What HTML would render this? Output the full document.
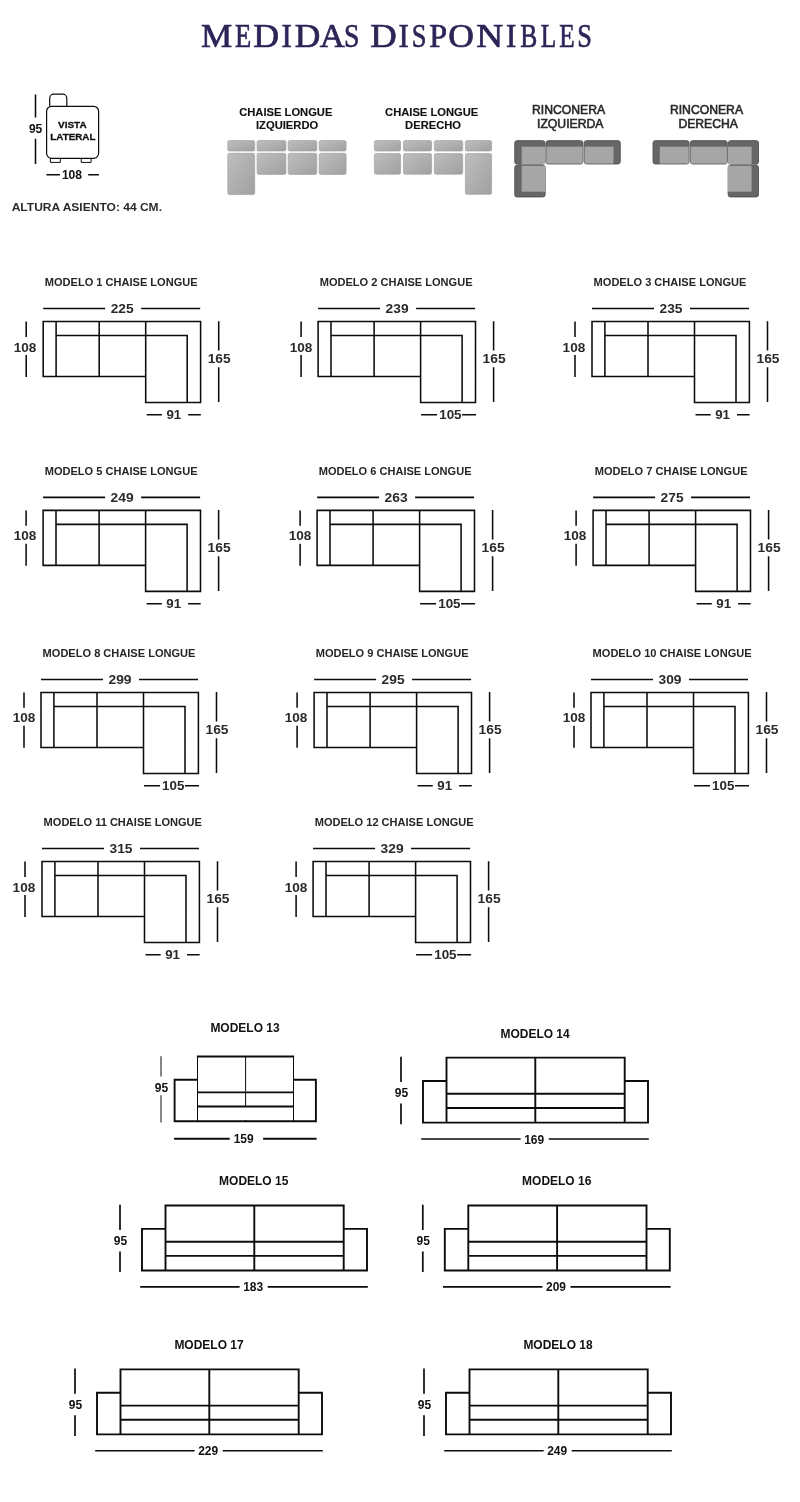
<!DOCTYPE html>
<html><head><meta charset="utf-8"><title>Medidas disponibles</title>
<style>
html,body{margin:0;padding:0;background:#fff;}
body{width:800px;height:1502px;overflow:hidden;font-family:"Liberation Sans",sans-serif;}
svg{display:block;}
text{font-family:"Liberation Sans",sans-serif;font-weight:bold;}
.title text{font-family:"Liberation Serif",serif;font-weight:normal;font-size:34.2px;fill:#2d2558;stroke:#2d2558;stroke-width:0.7px;}
.ln{fill:none;stroke:#0c0c0c;stroke-width:1.55;}
.l2{fill:none;stroke:#0c0c0c;stroke-width:1.9;}
.l1{fill:none;stroke:#0c0c0c;stroke-width:1;}
.ct{font-size:11.05px;fill:#262626;}
.dn{font-size:12.4px;fill:#2a2a2a;}
.st{font-size:12.9px;fill:#111;}
.sn{font-size:12.5px;fill:#111;}
.ic{font-size:11.2px;fill:#111;stroke:#111;stroke-width:0.12px;}
.rc{font-size:12.2px;fill:#2a2a2a;font-weight:normal;stroke:#2a2a2a;stroke-width:0.6px;}
</style></head><body>
<svg width="800" height="1502" viewBox="0 0 800 1502">
<defs>
<linearGradient id="gg" x1="0" y1="0" x2="1" y2="1"><stop offset="0" stop-color="#bebebe"/><stop offset="1" stop-color="#a0a0a0"/></linearGradient>
</defs>
<rect width="800" height="1502" fill="#fff"/>

<g style="filter:contrast(1.0001)" class="title">
<text transform="translate(201.04,46.6) scale(1.0256,1)">M</text>
<text transform="translate(235.03,46.6) scale(0.7774,1)">E</text>
<text transform="translate(253.27,46.6) scale(1.0473,1)">D</text>
<text transform="translate(281.58,46.6) scale(0.9049,1)">I</text>
<text transform="translate(294.78,46.6) scale(1.0361,1)">D</text>
<text transform="translate(319.86,46.6) scale(1.0119,1)">A</text>
<text transform="translate(343.94,46.6) scale(0.8144,1)">S</text>
<text transform="translate(370.24,46.6) scale(1.0741,1)">D</text>
<text transform="translate(398.58,46.6) scale(0.9049,1)">I</text>
<text transform="translate(411.63,46.6) scale(0.7733,1)">S</text>
<text transform="translate(429.37,46.6) scale(0.9390,1)">P</text>
<text transform="translate(448.24,46.6) scale(1.0392,1)">O</text>
<text transform="translate(476.13,46.6) scale(1.0904,1)">N</text>
<text transform="translate(506.08,46.6) scale(0.9049,1)">I</text>
<text transform="translate(520.16,46.6) scale(0.7467,1)">B</text>
<text transform="translate(540.82,46.6) scale(0.7366,1)">L</text>
<text transform="translate(559.32,46.6) scale(0.7362,1)">E</text>
<text transform="translate(577.29,46.6) scale(0.7699,1)">S</text>
</g>
<g style="filter:grayscale(1)">
<g>
<path class="l1" style="stroke-width:1.2" d="M49.7,106.3V98.2a4,4 0 0 1 4,-4h9.1a4,4 0 0 1 4,4V106.3"/>
<rect class="l1" style="stroke-width:1.2" x="46.6" y="106.3" width="52" height="52" rx="5" ry="5"/>
<path class="l1" d="M50.4,158.3v4.1h9.9v-4.1 M81.2,158.3v4.1h9.9v-4.1" stroke="#444"/>
<path class="ln" d="M35.5,94.4V117.6 M35.5,138.7V163.9"/>
<text x="35.6" y="133" class="sn" text-anchor="middle" textLength="13.4" lengthAdjust="spacingAndGlyphs">95</text>
<path class="ln" d="M46.4,174.8H59.9 M88.2,174.8H98.9"/>
<text x="72" y="179.3" class="sn" text-anchor="middle" textLength="20.2" lengthAdjust="spacingAndGlyphs">108</text>
<text x="72.3" y="127.9" font-size="9.7" fill="#111" stroke="#111" stroke-width="0.3" text-anchor="middle" textLength="28.6" lengthAdjust="spacingAndGlyphs">VISTA</text>
<text x="72.9" y="139.9" font-size="9.7" fill="#111" stroke="#111" stroke-width="0.3" text-anchor="middle" textLength="45.2" lengthAdjust="spacingAndGlyphs">LATERAL</text>
<text x="11.7" y="210.8" font-size="10.7" fill="#2c2c2c" textLength="150.3" lengthAdjust="spacingAndGlyphs">ALTURA ASIENTO: 44 CM.</text>
</g>
<text x="285.8" y="116.1" class="ic" text-anchor="middle">CHAISE LONGUE</text>
<text x="287.1" y="129" class="ic" text-anchor="middle">IZQUIERDO</text>
<rect x="227.80" y="140.60" width="26.90" height="10.40" rx="1.6" fill="url(#gg)" stroke="#a2a2a2" stroke-width="0.7"/>
<rect x="227.80" y="153.30" width="26.90" height="41.30" rx="1.6" fill="url(#gg)" stroke="#a2a2a2" stroke-width="0.7"/>
<rect x="257.10" y="140.60" width="28.80" height="10.40" rx="1.6" fill="url(#gg)" stroke="#a2a2a2" stroke-width="0.7"/>
<rect x="257.10" y="153.30" width="28.80" height="21.10" rx="1.6" fill="url(#gg)" stroke="#a2a2a2" stroke-width="0.7"/>
<rect x="288.20" y="140.60" width="28.60" height="10.40" rx="1.6" fill="url(#gg)" stroke="#a2a2a2" stroke-width="0.7"/>
<rect x="288.20" y="153.30" width="28.60" height="21.10" rx="1.6" fill="url(#gg)" stroke="#a2a2a2" stroke-width="0.7"/>
<rect x="319.20" y="140.60" width="26.90" height="10.40" rx="1.6" fill="url(#gg)" stroke="#a2a2a2" stroke-width="0.7"/>
<rect x="319.20" y="153.30" width="26.90" height="21.10" rx="1.6" fill="url(#gg)" stroke="#a2a2a2" stroke-width="0.7"/>
<text x="431.7" y="116.1" class="ic" text-anchor="middle">CHAISE LONGUE</text>
<text x="433.1" y="129" class="ic" text-anchor="middle">DERECHO</text>
<rect x="374.40" y="140.60" width="26.20" height="10.40" rx="1.6" fill="url(#gg)" stroke="#a2a2a2" stroke-width="0.7"/>
<rect x="374.40" y="153.60" width="26.20" height="20.60" rx="1.6" fill="url(#gg)" stroke="#a2a2a2" stroke-width="0.7"/>
<rect x="403.50" y="140.60" width="28.10" height="10.40" rx="1.6" fill="url(#gg)" stroke="#a2a2a2" stroke-width="0.7"/>
<rect x="403.50" y="153.60" width="28.10" height="20.60" rx="1.6" fill="url(#gg)" stroke="#a2a2a2" stroke-width="0.7"/>
<rect x="434.40" y="140.60" width="28.30" height="10.40" rx="1.6" fill="url(#gg)" stroke="#a2a2a2" stroke-width="0.7"/>
<rect x="434.40" y="153.60" width="28.30" height="20.60" rx="1.6" fill="url(#gg)" stroke="#a2a2a2" stroke-width="0.7"/>
<rect x="465.40" y="140.60" width="26.20" height="10.40" rx="1.6" fill="url(#gg)" stroke="#a2a2a2" stroke-width="0.7"/>
<rect x="465.40" y="153.60" width="26.20" height="40.70" rx="1.6" fill="url(#gg)" stroke="#a2a2a2" stroke-width="0.7"/>
<text x="568.6" y="113.8" class="rc" text-anchor="middle">RINCONERA</text>
<text x="570.2" y="127.8" class="rc" text-anchor="middle">IZQUIERDA</text>
<rect x="514.75" y="140.65" width="30.20" height="23.50" rx="2.3" fill="#676569" stroke="#504e52" stroke-width="0.9"/>
<rect x="546.05" y="140.65" width="36.90" height="23.30" rx="2.3" fill="#676569" stroke="#504e52" stroke-width="0.9"/>
<rect x="584.25" y="140.65" width="36.00" height="23.30" rx="2.3" fill="#676569" stroke="#504e52" stroke-width="0.9"/>
<rect x="514.75" y="165.35" width="30.40" height="31.60" rx="2.3" fill="#676569" stroke="#504e52" stroke-width="0.9"/>
<rect x="521.7" y="146.7" width="23.6" height="17.4" fill="#aaa5a9"/>
<rect x="546.4" y="146.7" width="36.3" height="16.9" fill="#aaa5a9"/>
<rect x="584.6" y="146.7" width="28.9" height="16.9" fill="#aaa5a9"/>
<rect x="521.7" y="165.7" width="23.6" height="26.0" fill="#aaa5a9"/>
<text x="706.5" y="113.8" class="rc" text-anchor="middle">RINCONERA</text>
<text x="708.2" y="127.8" class="rc" text-anchor="middle">DERECHA</text>
<rect x="728.35" y="140.65" width="30.20" height="23.50" rx="2.3" fill="#676569" stroke="#504e52" stroke-width="0.9"/>
<rect x="690.35" y="140.65" width="36.90" height="23.30" rx="2.3" fill="#676569" stroke="#504e52" stroke-width="0.9"/>
<rect x="653.05" y="140.65" width="36.00" height="23.30" rx="2.3" fill="#676569" stroke="#504e52" stroke-width="0.9"/>
<rect x="728.15" y="165.35" width="30.40" height="31.60" rx="2.3" fill="#676569" stroke="#504e52" stroke-width="0.9"/>
<rect x="728.0" y="146.7" width="23.6" height="17.4" fill="#aaa5a9"/>
<rect x="690.6" y="146.7" width="36.3" height="16.9" fill="#aaa5a9"/>
<rect x="659.8" y="146.7" width="28.9" height="16.9" fill="#aaa5a9"/>
<rect x="728.0" y="165.7" width="23.6" height="26.0" fill="#aaa5a9"/>
<g transform="translate(43.2,321.5)">
<text x="1.6" y="-35.5" class="ct">MODELO 1 CHAISE LONGUE</text>
<path class="ln" d="M0,0H157.4V81H102.5V55H0Z M12.9,0V55 M12.9,14H144V81 M56,0V55 M102.5,0V55"/>
<path class="ln" d="M0,-13H62 M98,-13H157"/>
<text x="79" y="-8.6" class="dn" text-anchor="middle" textLength="23" lengthAdjust="spacingAndGlyphs">225</text>
<path class="ln" d="M-17,0V15.4 M-17,33.4V55.4"/>
<text x="-18.1" y="30" class="dn" text-anchor="middle" textLength="22.6" lengthAdjust="spacingAndGlyphs">108</text>
<path class="ln" d="M175.5,-0.3V29 M175.5,45.8V80.6"/>
<text x="176" y="41.2" class="dn" text-anchor="middle" textLength="23" lengthAdjust="spacingAndGlyphs">165</text>
<path class="ln" d="M103.5,93.3H118.7 M145,93.3H157.6"/>
<text x="130.6" y="97.3" class="dn" text-anchor="middle" textLength="14.8" lengthAdjust="spacingAndGlyphs">91</text>
</g>
<g transform="translate(318.1,321.5)">
<text x="1.6" y="-35.5" class="ct">MODELO 2 CHAISE LONGUE</text>
<path class="ln" d="M0,0H157.4V81H102.5V55H0Z M12.9,0V55 M12.9,14H144V81 M56,0V55 M102.5,0V55"/>
<path class="ln" d="M0,-13H62 M98,-13H157"/>
<text x="79" y="-8.6" class="dn" text-anchor="middle" textLength="23" lengthAdjust="spacingAndGlyphs">239</text>
<path class="ln" d="M-17,0V15.4 M-17,33.4V55.4"/>
<text x="-17.0" y="30" class="dn" text-anchor="middle" textLength="22.6" lengthAdjust="spacingAndGlyphs">108</text>
<path class="ln" d="M175.5,-0.3V29 M175.5,45.8V80.6"/>
<text x="176" y="41.2" class="dn" text-anchor="middle" textLength="23" lengthAdjust="spacingAndGlyphs">165</text>
<path class="ln" d="M103,93.3H119 M144,93.3H158"/>
<text x="132.3" y="97.3" class="dn" text-anchor="middle" textLength="22.4" lengthAdjust="spacingAndGlyphs">105</text>
</g>
<g transform="translate(592.0,321.5)">
<text x="1.6" y="-35.5" class="ct">MODELO 3 CHAISE LONGUE</text>
<path class="ln" d="M0,0H157.4V81H102.5V55H0Z M12.9,0V55 M12.9,14H144V81 M56,0V55 M102.5,0V55"/>
<path class="ln" d="M0,-13H62 M98,-13H157"/>
<text x="79" y="-8.6" class="dn" text-anchor="middle" textLength="23" lengthAdjust="spacingAndGlyphs">235</text>
<path class="ln" d="M-17,0V15.4 M-17,33.4V55.4"/>
<text x="-18.1" y="30" class="dn" text-anchor="middle" textLength="22.6" lengthAdjust="spacingAndGlyphs">108</text>
<path class="ln" d="M175.5,-0.3V29 M175.5,45.8V80.6"/>
<text x="176" y="41.2" class="dn" text-anchor="middle" textLength="23" lengthAdjust="spacingAndGlyphs">165</text>
<path class="ln" d="M103.5,93.3H118.7 M145,93.3H157.6"/>
<text x="130.6" y="97.3" class="dn" text-anchor="middle" textLength="14.8" lengthAdjust="spacingAndGlyphs">91</text>
</g>
<g transform="translate(43.1,510.4)">
<text x="1.6" y="-35.5" class="ct">MODELO 5 CHAISE LONGUE</text>
<path class="ln" d="M0,0H157.4V81H102.5V55H0Z M12.9,0V55 M12.9,14H144V81 M56,0V55 M102.5,0V55"/>
<path class="ln" d="M0,-13H62 M98,-13H157"/>
<text x="79" y="-8.6" class="dn" text-anchor="middle" textLength="23" lengthAdjust="spacingAndGlyphs">249</text>
<path class="ln" d="M-17,0V15.4 M-17,33.4V55.4"/>
<text x="-18.1" y="30" class="dn" text-anchor="middle" textLength="22.6" lengthAdjust="spacingAndGlyphs">108</text>
<path class="ln" d="M175.5,-0.3V29 M175.5,45.8V80.6"/>
<text x="176" y="41.2" class="dn" text-anchor="middle" textLength="23" lengthAdjust="spacingAndGlyphs">165</text>
<path class="ln" d="M103.5,93.3H118.7 M145,93.3H157.6"/>
<text x="130.6" y="97.3" class="dn" text-anchor="middle" textLength="14.8" lengthAdjust="spacingAndGlyphs">91</text>
</g>
<g transform="translate(317.1,510.4)">
<text x="1.6" y="-35.5" class="ct">MODELO 6 CHAISE LONGUE</text>
<path class="ln" d="M0,0H157.4V81H102.5V55H0Z M12.9,0V55 M12.9,14H144V81 M56,0V55 M102.5,0V55"/>
<path class="ln" d="M0,-13H62 M98,-13H157"/>
<text x="79" y="-8.6" class="dn" text-anchor="middle" textLength="23" lengthAdjust="spacingAndGlyphs">263</text>
<path class="ln" d="M-17,0V15.4 M-17,33.4V55.4"/>
<text x="-17.0" y="30" class="dn" text-anchor="middle" textLength="22.6" lengthAdjust="spacingAndGlyphs">108</text>
<path class="ln" d="M175.5,-0.3V29 M175.5,45.8V80.6"/>
<text x="176" y="41.2" class="dn" text-anchor="middle" textLength="23" lengthAdjust="spacingAndGlyphs">165</text>
<path class="ln" d="M103,93.3H119 M144,93.3H158"/>
<text x="132.3" y="97.3" class="dn" text-anchor="middle" textLength="22.4" lengthAdjust="spacingAndGlyphs">105</text>
</g>
<g transform="translate(593.1,510.4)">
<text x="1.6" y="-35.5" class="ct">MODELO 7 CHAISE LONGUE</text>
<path class="ln" d="M0,0H157.4V81H102.5V55H0Z M12.9,0V55 M12.9,14H144V81 M56,0V55 M102.5,0V55"/>
<path class="ln" d="M0,-13H62 M98,-13H157"/>
<text x="79" y="-8.6" class="dn" text-anchor="middle" textLength="23" lengthAdjust="spacingAndGlyphs">275</text>
<path class="ln" d="M-17,0V15.4 M-17,33.4V55.4"/>
<text x="-18.1" y="30" class="dn" text-anchor="middle" textLength="22.6" lengthAdjust="spacingAndGlyphs">108</text>
<path class="ln" d="M175.5,-0.3V29 M175.5,45.8V80.6"/>
<text x="176" y="41.2" class="dn" text-anchor="middle" textLength="23" lengthAdjust="spacingAndGlyphs">165</text>
<path class="ln" d="M103.5,93.3H118.7 M145,93.3H157.6"/>
<text x="130.6" y="97.3" class="dn" text-anchor="middle" textLength="14.8" lengthAdjust="spacingAndGlyphs">91</text>
</g>
<g transform="translate(41.0,692.4)">
<text x="1.6" y="-35.5" class="ct">MODELO 8 CHAISE LONGUE</text>
<path class="ln" d="M0,0H157.4V81H102.5V55H0Z M12.9,0V55 M12.9,14H144V81 M56,0V55 M102.5,0V55"/>
<path class="ln" d="M0,-13H62 M98,-13H157"/>
<text x="79" y="-8.6" class="dn" text-anchor="middle" textLength="23" lengthAdjust="spacingAndGlyphs">299</text>
<path class="ln" d="M-17,0V15.4 M-17,33.4V55.4"/>
<text x="-17.0" y="30" class="dn" text-anchor="middle" textLength="22.6" lengthAdjust="spacingAndGlyphs">108</text>
<path class="ln" d="M175.5,-0.3V29 M175.5,45.8V80.6"/>
<text x="176" y="41.2" class="dn" text-anchor="middle" textLength="23" lengthAdjust="spacingAndGlyphs">165</text>
<path class="ln" d="M103,93.3H119 M144,93.3H158"/>
<text x="132.3" y="97.3" class="dn" text-anchor="middle" textLength="22.4" lengthAdjust="spacingAndGlyphs">105</text>
</g>
<g transform="translate(314.1,692.4)">
<text x="1.6" y="-35.5" class="ct">MODELO 9 CHAISE LONGUE</text>
<path class="ln" d="M0,0H157.4V81H102.5V55H0Z M12.9,0V55 M12.9,14H144V81 M56,0V55 M102.5,0V55"/>
<path class="ln" d="M0,-13H62 M98,-13H157"/>
<text x="79" y="-8.6" class="dn" text-anchor="middle" textLength="23" lengthAdjust="spacingAndGlyphs">295</text>
<path class="ln" d="M-17,0V15.4 M-17,33.4V55.4"/>
<text x="-18.1" y="30" class="dn" text-anchor="middle" textLength="22.6" lengthAdjust="spacingAndGlyphs">108</text>
<path class="ln" d="M175.5,-0.3V29 M175.5,45.8V80.6"/>
<text x="176" y="41.2" class="dn" text-anchor="middle" textLength="23" lengthAdjust="spacingAndGlyphs">165</text>
<path class="ln" d="M103.5,93.3H118.7 M145,93.3H157.6"/>
<text x="130.6" y="97.3" class="dn" text-anchor="middle" textLength="14.8" lengthAdjust="spacingAndGlyphs">91</text>
</g>
<g transform="translate(591.0,692.4)">
<text x="1.6" y="-35.5" class="ct">MODELO 10 CHAISE LONGUE</text>
<path class="ln" d="M0,0H157.4V81H102.5V55H0Z M12.9,0V55 M12.9,14H144V81 M56,0V55 M102.5,0V55"/>
<path class="ln" d="M0,-13H62 M98,-13H157"/>
<text x="79" y="-8.6" class="dn" text-anchor="middle" textLength="23" lengthAdjust="spacingAndGlyphs">309</text>
<path class="ln" d="M-17,0V15.4 M-17,33.4V55.4"/>
<text x="-17.0" y="30" class="dn" text-anchor="middle" textLength="22.6" lengthAdjust="spacingAndGlyphs">108</text>
<path class="ln" d="M175.5,-0.3V29 M175.5,45.8V80.6"/>
<text x="176" y="41.2" class="dn" text-anchor="middle" textLength="23" lengthAdjust="spacingAndGlyphs">165</text>
<path class="ln" d="M103,93.3H119 M144,93.3H158"/>
<text x="132.3" y="97.3" class="dn" text-anchor="middle" textLength="22.4" lengthAdjust="spacingAndGlyphs">105</text>
</g>
<g transform="translate(42.0,861.5)">
<text x="1.6" y="-35.5" class="ct">MODELO 11 CHAISE LONGUE</text>
<path class="ln" d="M0,0H157.4V81H102.5V55H0Z M12.9,0V55 M12.9,14H144V81 M56,0V55 M102.5,0V55"/>
<path class="ln" d="M0,-13H62 M98,-13H157"/>
<text x="79" y="-8.6" class="dn" text-anchor="middle" textLength="23" lengthAdjust="spacingAndGlyphs">315</text>
<path class="ln" d="M-17,0V15.4 M-17,33.4V55.4"/>
<text x="-18.1" y="30" class="dn" text-anchor="middle" textLength="22.6" lengthAdjust="spacingAndGlyphs">108</text>
<path class="ln" d="M175.5,-0.3V29 M175.5,45.8V80.6"/>
<text x="176" y="41.2" class="dn" text-anchor="middle" textLength="23" lengthAdjust="spacingAndGlyphs">165</text>
<path class="ln" d="M103.5,93.3H118.7 M145,93.3H157.6"/>
<text x="130.6" y="97.3" class="dn" text-anchor="middle" textLength="14.8" lengthAdjust="spacingAndGlyphs">91</text>
</g>
<g transform="translate(313.1,861.5)">
<text x="1.6" y="-35.5" class="ct">MODELO 12 CHAISE LONGUE</text>
<path class="ln" d="M0,0H157.4V81H102.5V55H0Z M12.9,0V55 M12.9,14H144V81 M56,0V55 M102.5,0V55"/>
<path class="ln" d="M0,-13H62 M98,-13H157"/>
<text x="79" y="-8.6" class="dn" text-anchor="middle" textLength="23" lengthAdjust="spacingAndGlyphs">329</text>
<path class="ln" d="M-17,0V15.4 M-17,33.4V55.4"/>
<text x="-17.0" y="30" class="dn" text-anchor="middle" textLength="22.6" lengthAdjust="spacingAndGlyphs">108</text>
<path class="ln" d="M175.5,-0.3V29 M175.5,45.8V80.6"/>
<text x="176" y="41.2" class="dn" text-anchor="middle" textLength="23" lengthAdjust="spacingAndGlyphs">165</text>
<path class="ln" d="M103,93.3H119 M144,93.3H158"/>
<text x="132.3" y="97.3" class="dn" text-anchor="middle" textLength="22.4" lengthAdjust="spacingAndGlyphs">105</text>
</g>
<text x="245" y="1031.5" class="st" text-anchor="middle" textLength="69.2" lengthAdjust="spacingAndGlyphs">MODELO 13</text>
<g>
<path class="l2" d="M197.5,1079.8H174.6V1121.2H315.9V1079.8H293.5"/>
<path class="l2" d="M196.9,1056.5H294.1"/>
<path class="l1" d="M197.5,1056.4V1121.5 M293.5,1056.4V1121.5 M245.6,1056.4V1107 M245.6,1120V1122"/>
<path class="l2" d="M197.5,1092.4H293.5 M197.5,1106.5H293.5"/>
<path class="l1" d="M161,1056.2V1076.5 M161,1095.2V1122.5" stroke="#3a3a3a" stroke-width="1.7"/>
<text x="161.5" y="1092" class="sn" text-anchor="middle" textLength="13.4" lengthAdjust="spacingAndGlyphs">95</text>
<path class="l2" d="M174.1,1138.8H229.7 M263.1,1138.8H316.6"/>
<text x="243.7" y="1143.3" class="sn" text-anchor="middle" textLength="20" lengthAdjust="spacingAndGlyphs">159</text>
</g>
<text x="535.1" y="1038.25" class="st" text-anchor="middle" textLength="69.2" lengthAdjust="spacingAndGlyphs">MODELO 14</text>
<g transform="translate(423.0,1081.0)">
<path class="l2" d="M23.5,-23.4H201.7V0H225V41.6H0V0H23.5Z M23.5,0V41.6 M201.7,0V41.6 M112.3,-23.4V41.6 M23.5,12.8H201.7 M23.5,27H201.7"/>
<path class="l2" style="stroke-width:1.7" d="M-22,-24.2V1 M-22,22.5V43.2"/>
<text x="-21.6" y="16.2" class="sn" text-anchor="middle" textLength="13.4" lengthAdjust="spacingAndGlyphs">95</text>
<path class="l2" style="stroke-width:1.6" d="M-1.8,58H97.6 M125.7,58H225.8"/>
<text x="111.2" y="62.5" class="sn" text-anchor="middle" textLength="20" lengthAdjust="spacingAndGlyphs">169</text>
</g>
<text x="253.7" y="1184.5" class="st" text-anchor="middle" textLength="69.2" lengthAdjust="spacingAndGlyphs">MODELO 15</text>
<g transform="translate(142.0,1228.9)">
<path class="l2" d="M23.5,-23.4H201.7V0H225V41.6H0V0H23.5Z M23.5,0V41.6 M201.7,0V41.6 M112.3,-23.4V41.6 M23.5,12.8H201.7 M23.5,27H201.7"/>
<path class="l2" style="stroke-width:1.7" d="M-22,-24.2V1 M-22,22.5V43.2"/>
<text x="-21.6" y="16.2" class="sn" text-anchor="middle" textLength="13.4" lengthAdjust="spacingAndGlyphs">95</text>
<path class="l2" style="stroke-width:1.6" d="M-1.8,58H97.6 M125.7,58H225.8"/>
<text x="111.2" y="62.5" class="sn" text-anchor="middle" textLength="20" lengthAdjust="spacingAndGlyphs">183</text>
</g>
<text x="556.7" y="1184.5" class="st" text-anchor="middle" textLength="69.2" lengthAdjust="spacingAndGlyphs">MODELO 16</text>
<g transform="translate(444.8,1228.9)">
<path class="l2" d="M23.5,-23.4H201.7V0H225V41.6H0V0H23.5Z M23.5,0V41.6 M201.7,0V41.6 M112.3,-23.4V41.6 M23.5,12.8H201.7 M23.5,27H201.7"/>
<path class="l2" style="stroke-width:1.7" d="M-22,-24.2V1 M-22,22.5V43.2"/>
<text x="-21.6" y="16.2" class="sn" text-anchor="middle" textLength="13.4" lengthAdjust="spacingAndGlyphs">95</text>
<path class="l2" style="stroke-width:1.6" d="M-1.8,58H97.6 M125.7,58H225.8"/>
<text x="111.2" y="62.5" class="sn" text-anchor="middle" textLength="20" lengthAdjust="spacingAndGlyphs">209</text>
</g>
<text x="209" y="1349" class="st" text-anchor="middle" textLength="69.2" lengthAdjust="spacingAndGlyphs">MODELO 17</text>
<g transform="translate(97.0,1392.8)">
<path class="l2" d="M23.5,-23.4H201.7V0H225V41.6H0V0H23.5Z M23.5,0V41.6 M201.7,0V41.6 M112.3,-23.4V41.6 M23.5,12.8H201.7 M23.5,27H201.7"/>
<path class="l2" style="stroke-width:1.7" d="M-22,-24.2V1 M-22,22.5V43.2"/>
<text x="-21.6" y="16.2" class="sn" text-anchor="middle" textLength="13.4" lengthAdjust="spacingAndGlyphs">95</text>
<path class="l2" style="stroke-width:1.6" d="M-1.8,58H97.6 M125.7,58H225.8"/>
<text x="111.2" y="62.5" class="sn" text-anchor="middle" textLength="20" lengthAdjust="spacingAndGlyphs">229</text>
</g>
<text x="558" y="1349" class="st" text-anchor="middle" textLength="69.2" lengthAdjust="spacingAndGlyphs">MODELO 18</text>
<g transform="translate(446.0,1392.8)">
<path class="l2" d="M23.5,-23.4H201.7V0H225V41.6H0V0H23.5Z M23.5,0V41.6 M201.7,0V41.6 M112.3,-23.4V41.6 M23.5,12.8H201.7 M23.5,27H201.7"/>
<path class="l2" style="stroke-width:1.7" d="M-22,-24.2V1 M-22,22.5V43.2"/>
<text x="-21.6" y="16.2" class="sn" text-anchor="middle" textLength="13.4" lengthAdjust="spacingAndGlyphs">95</text>
<path class="l2" style="stroke-width:1.6" d="M-1.8,58H97.6 M125.7,58H225.8"/>
<text x="111.2" y="62.5" class="sn" text-anchor="middle" textLength="20" lengthAdjust="spacingAndGlyphs">249</text>
</g>
</g>
</svg></body></html>
